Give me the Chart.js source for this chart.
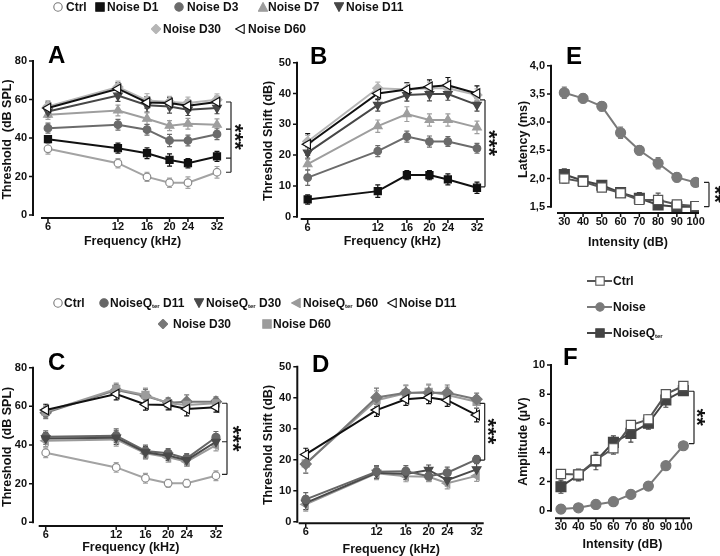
<!DOCTYPE html>
<html>
<head>
<meta charset="utf-8">
<script src="https://cdn.jsdelivr.net/npm/chart.js@4.4.1/dist/chart.umd.min.js"></script>
<style>
  body { margin: 0; background: #fff; }
  #wrap { position: relative; width: 720px; height: 556px; overflow: hidden;
          font-family: "Liberation Sans", Arial, sans-serif; font-weight: bold; color: #111; }
  #wrap canvas { position: absolute; left: 0; top: 0; }
  .letter { position: absolute; font-size: 24px; line-height: 24px; color: #000; }
  .leg { position: absolute; font-size: 12px; line-height: 14px; white-space: nowrap; }
  .leg sub { font-size: 6px; vertical-align: -1px; }
  .mk { position: absolute; line-height: 0; }
  .mk svg { display: block; }
</style>
</head>
<body>
<div id="wrap">
  <canvas id="cA" width="720" height="556"></canvas>
  <canvas id="cB" width="720" height="556"></canvas>
  <canvas id="cE" width="720" height="556"></canvas>
  <canvas id="cC" width="720" height="556"></canvas>
  <canvas id="cD" width="720" height="556"></canvas>
  <canvas id="cF" width="720" height="556"></canvas>
  <div class="letter" style="left:48px;top:43px">A</div>
  <div class="letter" style="left:310px;top:44px">B</div>
  <div class="letter" style="left:566px;top:44px">E</div>
  <div class="letter" style="left:48px;top:350px">C</div>
  <div class="letter" style="left:312px;top:352px">D</div>
  <div class="letter" style="left:563px;top:345px">F</div>
</div>
<script>
// x values
const freqs = [6, 12, 16, 20, 24, 32];
const levels = [30, 40, 50, 60, 70, 80, 90, 100];

// tick labels
const thrTicks = [0, 20, 40, 60, 80];
const shiftTicks = [0, 10, 20, 30, 40, 50];
const latTicks = [1.5, 2.0, 2.5, 3.0, 3.5, 4.0];
const ampTicks = [0, 2, 4, 6, 8, 10];

// A - threshold (dB SPL)
const aCtrl = [34.4, 26.9, 19.8, 16.8, 16.8, 22.2];
const aCtrlErr = [2.8, 2.4, 2.4, 2.4, 3.0, 3.0];
const aD1 = [39.4, 34.7, 32.1, 28.6, 26.9, 30.4];
const aD1Err = [1.5, 2.6, 2.8, 3.2, 2.4, 2.6];
const aD3 = [45.1, 46.9, 44.3, 38.7, 38.7, 42.0];
const aD3Err = [2.6, 2.8, 2.8, 3.2, 2.8, 2.8];
const aD7 = [52.1, 54.3, 50.0, 46.4, 47.4, 46.9];
const aD7Err = [2.4, 2.8, 3.0, 2.6, 2.8, 3.0];
const aD11 = [53.8, 62.0, 57.0, 56.4, 54.7, 55.6];
const aD11Err = [3.0, 3.0, 3.5, 3.5, 3.0, 3.0];
const aD30 = [56.4, 66.5, 59.5, 58.7, 58.2, 59.9];
const aD30Err = [3.0, 3.0, 3.5, 3.0, 3.0, 3.0];
const aD60 = [55.6, 65.6, 58.5, 58.2, 56.8, 58.7];
const aD60Err = [3.0, 3.0, 3.0, 3.0, 3.0, 3.0];

// B - threshold shift (dB)
const bD1 = [5.6, 8.3, 13.5, 13.5, 12.1, 9.4];
const bD1Err = [1.5, 2.0, 1.5, 1.5, 1.8, 1.8];
const bD3 = [12.7, 21.3, 26.0, 24.4, 24.4, 22.2];
const bD3Err = [2.5, 1.8, 1.8, 1.8, 1.6, 1.6];
const bD7 = [17.1, 29.4, 33.3, 31.4, 31.4, 29.0];
const bD7Err = [2.0, 2.0, 2.4, 2.0, 2.0, 2.0];
const bD11 = [20.8, 36.3, 39.5, 39.8, 39.8, 36.3];
const bD11Err = [2.0, 2.0, 2.0, 2.2, 2.0, 2.0];
const bD30 = [24.4, 41.7, 41.3, 41.7, 41.7, 39.5];
const bD30Err = [2.0, 2.0, 2.0, 2.0, 2.0, 2.0];
const bD60 = [23.5, 40.0, 41.3, 42.2, 42.7, 40.0];
const bD60Err = [3.5, 2.0, 2.2, 2.2, 2.5, 2.5];

// E - latency (ms)
const eCtrl = [2.00, 1.94, 1.84, 1.74, 1.62, 1.62, 1.54, 1.51];
const eCtrlErr = [0.08, 0.07, 0.07, 0.07, 0.08, 0.12, 0.07, 0.06];
const eNoise = [3.52, 3.42, 3.28, 2.81, 2.50, 2.27, 2.02, 1.93];
const eNoiseErr = [0.10, 0.08, 0.08, 0.10, 0.08, 0.10, 0.08, 0.06];
const eQter = [2.07, 1.96, 1.88, 1.75, 1.65, 1.53, 1.50, 1.50];
const eQterErr = [0.10, 0.08, 0.08, 0.08, 0.10, 0.08, 0.06, 0.06];

// C - threshold (dB SPL)
const cCtrl = [36.0, 28.4, 22.8, 20.2, 20.2, 24.1];
const cCtrlErr = [2.5, 2.5, 2.5, 2.0, 2.0, 2.5];
const cQ11 = [44.3, 44.8, 36.9, 35.7, 33.1, 44.0];
const cQ11Err = [3.0, 3.5, 3.0, 2.5, 2.5, 3.0];
const cQ30 = [43.4, 43.8, 36.2, 34.5, 32.2, 41.7];
const cQ30Err = [3.0, 3.5, 3.0, 2.5, 2.5, 3.0];
const cQ60 = [42.2, 42.9, 35.7, 33.6, 31.4, 40.0];
const cQ60Err = [3.0, 3.5, 3.0, 2.5, 2.5, 3.0];
const cN11 = [58.1, 66.4, 61.0, 60.7, 58.6, 59.5];
const cN11Err = [3.0, 3.0, 3.0, 2.5, 3.5, 2.5];
const cN30 = [56.7, 68.4, 65.3, 61.9, 62.4, 62.4];
const cN30Err = [3.0, 3.0, 3.5, 2.5, 3.5, 2.5];
const cN60 = [57.2, 69.0, 65.9, 61.6, 60.7, 61.6];
const cN60Err = [3.0, 3.0, 3.5, 2.5, 3.0, 2.5];

// D - threshold shift (dB)
const dN11 = [21.7, 36.0, 39.5, 40.1, 39.2, 34.4];
const dN11Err = [2.0, 2.0, 2.0, 2.0, 2.0, 2.2];
const dN30 = [18.6, 40.1, 41.6, 41.6, 41.6, 39.5];
const dN30Err = [3.0, 3.0, 2.5, 2.5, 2.5, 2.0];
const dN60 = [18.8, 39.2, 41.4, 41.9, 40.9, 38.7];
const dN60Err = [3.0, 3.0, 2.5, 2.5, 2.5, 2.0];
const dQ11 = [7.2, 16.1, 16.3, 14.7, 15.8, 20.1];
const dQ11Err = [2.2, 2.0, 1.8, 1.6, 1.8, 1.2];
const dQ30 = [6.1, 15.8, 15.4, 16.7, 13.4, 16.9];
const dQ30Err = [2.2, 2.0, 1.8, 1.6, 1.8, 1.8];
const dQ60 = [5.6, 15.6, 14.7, 14.5, 12.4, 14.8];
const dQ60Err = [2.2, 2.0, 1.8, 1.6, 1.8, 1.8];

// F - amplitude (uV)
const fCtrl = [2.52, 2.49, 3.48, 4.28, 5.88, 6.27, 8.00, 8.56];
const fCtrlErr = [0.30, 0.30, 0.40, 0.40, 0.30, 0.30, 0.30, 0.30];
const fNoise = [0.11, 0.20, 0.43, 0.62, 1.12, 1.69, 3.09, 4.46];
const fNoiseErr = [0.30, 0.25, 0.30, 0.30, 0.30, 0.30, 0.25, 0.20];
const fQter = [1.65, 2.45, 3.41, 4.69, 5.31, 6.00, 7.60, 8.24];
const fQterErr = [0.45, 0.40, 0.60, 0.45, 0.60, 0.40, 0.50, 0.30];

// significance brackets (data units on y)
const aBracket = [58.7, 44.6, 29.5, 22.2];
const bBracket = [37.9, 9.7];
const eBracket = [1.93, 1.5];
const cBracket = [61.6, 41.7, 24.8];
const dBracket = [38.2, 19.9];
const fBracket = [8.2, 4.6];

const FONT = '"Liberation Sans", Arial, sans-serif';

// marker / line looks
const look = {
  ctrl: { line: '#a3a3a3', fill: '#fff', edge: '#8c8c8c', shape: 'circle', r: 3.8 },
  d1:   { line: '#111', fill: '#111', edge: '#111', shape: 'rect', r: 5 },
  d3:   { line: '#6b6b6b', fill: '#6b6b6b', edge: '#6b6b6b', shape: 'circle', r: 3.8 },
  d7:   { line: '#9e9e9e', fill: '#9e9e9e', edge: '#9e9e9e', shape: 'triangle', rot: 0, r: 5 },
  d11:  { line: '#474747', fill: '#474747', edge: '#474747', shape: 'triangle', rot: 180, r: 5 },
  d30:  { line: '#b6b6b6', fill: '#b6b6b6', edge: '#b6b6b6', shape: 'rectRot', r: 5 },
  d60:  { line: '#111', fill: '#fff', edge: '#111', shape: 'triangle', rot: 270, r: 5.5 },
  q11:  { line: '#666', fill: '#666', edge: '#666', shape: 'circle', r: 4 },
  q30:  { line: '#4a4a4a', fill: '#4a4a4a', edge: '#4a4a4a', shape: 'triangle', rot: 180, r: 5 },
  q60:  { line: '#9a9a9a', fill: '#9a9a9a', edge: '#9a9a9a', shape: 'triangle', rot: 270, r: 5 },
  n11:  { line: '#111', fill: '#fff', edge: '#111', shape: 'triangle', rot: 270, r: 5.5 },
  n30:  { line: '#777', fill: '#777', edge: '#777', shape: 'rectRot', r: 5.5 },
  n60:  { line: '#9c9c9c', fill: '#9c9c9c', edge: '#9c9c9c', shape: 'rect', r: 5 },
  eCtrl: { line: '#555', fill: '#fff', edge: '#555', shape: 'rect', r: 6.5 },
  eNoise: { line: '#7a7a7a', fill: '#7a7a7a', edge: '#7a7a7a', shape: 'circle', r: 5 },
  eQter: { line: '#444', fill: '#444', edge: '#444', shape: 'rect', r: 7 }
};

function series(xs, vals, errs, lk) {
  return {
    data: xs.map((x, i) => ({ x: x, y: vals[i] })),
    err: errs,
    borderColor: lk.line,
    borderWidth: 2,
    pointStyle: lk.shape,
    pointRotation: lk.rot || 0,
    pointRadius: lk.r,
    pointBackgroundColor: lk.fill,
    pointBorderColor: lk.edge,
    pointBorderWidth: 1.2,
    tension: 0,
    fill: false
  };
}

// error bars under the markers
const errorBars = {
  id: 'errorBars',
  beforeDatasetsDraw(chart) {
    const ctx = chart.ctx, ys = chart.scales.y;
    chart.data.datasets.forEach((ds, di) => {
      const meta = chart.getDatasetMeta(di);
      ctx.save();
      ctx.strokeStyle = ds.borderColor;
      ctx.lineWidth = 1.2;
      meta.data.forEach((pt, i) => {
        const v = ds.data[i].y, e = ds.err[i];
        const top = ys.getPixelForValue(v + e), bot = ys.getPixelForValue(v - e);
        ctx.beginPath();
        ctx.moveTo(pt.x, top); ctx.lineTo(pt.x, bot);
        ctx.moveTo(pt.x - 2.5, top); ctx.lineTo(pt.x + 2.5, top);
        ctx.moveTo(pt.x - 2.5, bot); ctx.lineTo(pt.x + 2.5, bot);
        ctx.stroke();
      });
      ctx.restore();
    });
  }
};

// detached axis lines with short outside ticks
const axisLines = {
  id: 'axisLines',
  afterDraw(chart, args, opts) {
    const { ctx, chartArea: a, scales: { x, y } } = chart;
    const yPix = y.ticks.map(t => y.getPixelForValue(t.value));
    ctx.save();
    ctx.strokeStyle = '#111';
    ctx.lineWidth = 2;
    ctx.beginPath();
    ctx.moveTo(opts.yLine, Math.min(...yPix) - 1);
    ctx.lineTo(opts.yLine, Math.max(...yPix) + 1);
    ctx.moveTo(a.left, a.bottom);
    ctx.lineTo(a.right, a.bottom);
    ctx.stroke();
    ctx.lineWidth = 1.5;
    ctx.beginPath();
    yPix.forEach(p => { ctx.moveTo(opts.yLine - 4, p); ctx.lineTo(opts.yLine, p); });
    x.ticks.forEach(t => {
      const p = x.getPixelForValue(t.value);
      ctx.moveTo(p, a.bottom); ctx.lineTo(p, a.bottom + 4);
    });
    ctx.stroke();
    ctx.restore();
  }
};

// significance bracket with rotated stars
const bracket = {
  id: 'bracket',
  afterDraw(chart, args, opts) {
    const { ctx, chartArea: a, scales: { y } } = chart;
    const bx = a.right + opts.dx;
    const ps = opts.values.map(v => y.getPixelForValue(v));
    const top = Math.min(...ps), bot = Math.max(...ps);
    ctx.save();
    ctx.strokeStyle = '#222';
    ctx.lineWidth = 1.2;
    ctx.beginPath();
    ctx.moveTo(bx, top); ctx.lineTo(bx, bot);
    ps.forEach(p => { ctx.moveTo(bx - 5, p); ctx.lineTo(bx, p); });
    ctx.stroke();
    ctx.translate(bx + opts.starDx, (top + bot) / 2);
    ctx.rotate(Math.PI / 2);
    ctx.font = 'bold 22px ' + FONT;
    ctx.fillStyle = '#111';
    const m = ctx.measureText(opts.stars);
    const w = m.actualBoundingBoxRight + m.actualBoundingBoxLeft;
    ctx.fillText(opts.stars, -w / 2 + m.actualBoundingBoxLeft,
      (m.actualBoundingBoxAscent - m.actualBoundingBoxDescent) / 2);
    ctx.restore();
  }
};

function makePanel(id, box, ax, datasets, br) {
  const lh = 12.5 * 1.2;
  const wy = box.L - (box.yTitleX - lh / 2);
  const hx = box.xTitleY + lh / 2 - box.B;
  const tickFont = { family: FONT, size: 11, weight: 'bold' };
  const titleFont = { family: FONT, size: 12.5, weight: 'bold' };
  new Chart(document.getElementById(id), {
    type: 'line',
    data: { datasets: datasets },
    options: {
      responsive: false,
      animation: false,
      devicePixelRatio: 1,
      events: [],
      layout: { padding: { left: box.L - wy, top: box.T, right: 720 - box.R, bottom: 556 - box.B - hx } },
      plugins: {
        legend: { display: false },
        tooltip: { enabled: false },
        axisLines: { yLine: box.yLine },
        bracket: br
      },
      scales: {
        x: {
          type: ax.xType,
          min: ax.xMin,
          max: ax.xMax,
          afterBuildTicks: s => { s.ticks = ax.xTicks.map(v => ({ value: v })); },
          afterFit: s => { s.height = hx; s.paddingLeft = 0; s.paddingRight = 0; },
          grid: { display: false, drawTicks: false },
          border: { display: false },
          ticks: { padding: 2, color: '#111', font: tickFont, autoSkip: false, maxRotation: 0,
                   callback: v => String(v) },
          title: { display: true, text: ax.xTitle, color: '#111', font: titleFont, padding: 0 }
        },
        y: {
          type: 'linear',
          min: ax.yMin,
          max: ax.yMax,
          afterBuildTicks: s => { s.ticks = ax.yTicks.map(v => ({ value: v })); },
          afterFit: s => { s.width = wy; s.paddingTop = 0; s.paddingBottom = 0; },
          grid: { display: false, drawTicks: false },
          border: { display: false },
          ticks: { padding: box.L - box.yLine + 6, color: '#111', font: tickFont,
                   callback: ax.yFmt || (v => String(v)) },
          title: { display: true, text: ax.yTitle, color: '#111', font: titleFont, padding: 0 }
        }
      }
    },
    plugins: [errorBars, axisLines, bracket]
  });
}

const freqAxis = { xType: 'logarithmic', xMin: 5.6, xMax: 34.3, xTicks: freqs, xTitle: 'Frequency (kHz)' };
const comma = v => v.toFixed(1).replace('.', ',');

makePanel('cA', { L: 41, R: 224, T: 61, B: 218, yLine: 33, yTitleX: 8, xTitleY: 242 },
  Object.assign({ yMin: -1.56, yMax: 80, yTicks: thrTicks, yTitle: 'Threshold  (dB SPL)' }, freqAxis),
  [series(freqs, aD60, aD60Err, look.d60), series(freqs, aD30, aD30Err, look.d30),
   series(freqs, aD11, aD11Err, look.d11), series(freqs, aD7, aD7Err, look.d7),
   series(freqs, aD3, aD3Err, look.d3), series(freqs, aD1, aD1Err, look.d1),
   series(freqs, aCtrl, aCtrlErr, look.ctrl)],
  { values: aBracket, dx: 7, starDx: 7, stars: '***' });

makePanel('cB', { L: 300.7, R: 484, T: 62.7, B: 219, yLine: 297, yTitleX: 269, xTitleY: 241.7 },
  Object.assign({ yMin: -0.75, yMax: 50, yTicks: shiftTicks, yTitle: 'Threshold Shift (dB)' }, freqAxis),
  [series(freqs, bD60, bD60Err, look.d60), series(freqs, bD11, bD11Err, look.d11),
   series(freqs, bD30, bD30Err, look.d30), series(freqs, bD7, bD7Err, look.d7),
   series(freqs, bD3, bD3Err, look.d3), series(freqs, bD1, bD1Err, look.d1)],
  { values: bBracket, dx: 1, starDx: 7, stars: '***' });

makePanel('cE', { L: 557, R: 699, T: 65.7, B: 213, yLine: 551, yTitleX: 524, xTitleY: 243 },
  { xType: 'linear', xMin: 26.1, xMax: 101.8, xTicks: levels, xTitle: 'Intensity (dB)',
    yMin: 1.388, yMax: 4.0, yTicks: latTicks, yTitle: 'Latency (ms)', yFmt: comma },
  [series(levels, eCtrl, eCtrlErr, look.eCtrl), series(levels, eQter, eQterErr, look.eQter),
   series(levels, eNoise, eNoiseErr, look.eNoise)],
  { values: eBracket, dx: 10, starDx: 9, stars: '**' });

makePanel('cC', { L: 38.7, R: 223, T: 367.7, B: 526, yLine: 33, yTitleX: 8, xTitleY: 548 },
  Object.assign({ yMin: -1.9, yMax: 80, yTicks: thrTicks, yTitle: 'Threshold  (dB SPL)' }, freqAxis),
  [series(freqs, cN11, cN11Err, look.n11), series(freqs, cN60, cN60Err, look.n60),
   series(freqs, cN30, cN30Err, look.n30), series(freqs, cQ30, cQ30Err, look.q30),
   series(freqs, cQ11, cQ11Err, look.q11), series(freqs, cQ60, cQ60Err, look.q60),
   series(freqs, cCtrl, cCtrlErr, look.ctrl)],
  { values: cBracket, dx: 4, starDx: 9, stars: '***' });

makePanel('cD', { L: 298.7, R: 483.7, T: 366.7, B: 523.3, yLine: 297.3, yTitleX: 269, xTitleY: 550 },
  Object.assign({ yMin: -0.5, yMax: 50, yTicks: shiftTicks, yTitle: 'Threshold Shift (dB)' }, freqAxis),
  [series(freqs, dN11, dN11Err, look.n11), series(freqs, dN30, dN30Err, look.n30),
   series(freqs, dN60, dN60Err, look.n60), series(freqs, dQ11, dQ11Err, look.q11),
   series(freqs, dQ30, dQ30Err, look.q30), series(freqs, dQ60, dQ60Err, look.q60)],
  { values: dBracket, dx: 1, starDx: 7, stars: '***' });

makePanel('cF', { L: 555, R: 690, T: 365, B: 518.3, yLine: 551, yTitleX: 524, xTitleY: 545 },
  { xType: 'linear', xMin: 26.6, xMax: 103.8, xTicks: levels, xTitle: 'Intensity (dB)',
    yMin: -0.52, yMax: 10, yTicks: ampTicks, yTitle: 'Amplitude (\u00b5V)' },
  [series(levels, fCtrl, fCtrlErr, look.eCtrl), series(levels, fQter, fQterErr, look.eQter),
   series(levels, fNoise, fNoiseErr, look.eNoise)],
  { values: fBracket, dx: 4, starDx: 6, stars: '**' });

// legends
const wrap = document.getElementById('wrap');
function markerSvg(shape, fill, stroke, s) {
  const h = s / 2;
  let el = '';
  if (shape === 'circle') el = `<circle cx="${h}" cy="${h}" r="${h - 0.8}"/>`;
  if (shape === 'square') el = `<rect x="0.8" y="0.8" width="${s - 1.6}" height="${s - 1.6}"/>`;
  if (shape === 'up') el = `<polygon points="${h},0.6 ${s - 0.4},${s - 0.8} 0.4,${s - 0.8}"/>`;
  if (shape === 'down') el = `<polygon points="0.4,0.8 ${s - 0.4},0.8 ${h},${s - 0.6}"/>`;
  if (shape === 'left') el = `<polygon points="0.6,${h} ${s - 0.8},0.4 ${s - 0.8},${s - 0.4}"/>`;
  if (shape === 'diamond') el = `<polygon points="${h},0.3 ${s - 0.3},${h} ${h},${s - 0.3} 0.3,${h}"/>`;
  return `<svg width="${s}" height="${s}" fill="${fill}" stroke="${stroke}" stroke-width="1.1">${el}</svg>`;
}
function legendItem(shape, fill, stroke, html, mx, tx, cy, lineColor) {
  const s = 10;
  if (lineColor) {
    const ln = document.createElement('div');
    ln.style.cssText = `position:absolute;left:${mx - 13}px;top:${cy - 1}px;width:25px;height:2px;background:${lineColor}`;
    wrap.appendChild(ln);
  }
  const mk = document.createElement('div');
  mk.className = 'mk';
  mk.style.left = (mx - s / 2) + 'px';
  mk.style.top = (cy - s / 2) + 'px';
  mk.innerHTML = markerSvg(shape, fill, stroke, s);
  wrap.appendChild(mk);
  const t = document.createElement('div');
  t.className = 'leg';
  t.style.left = tx + 'px';
  t.style.top = (cy - 7) + 'px';
  t.innerHTML = html;
  wrap.appendChild(t);
}
const qter = 'Noise<span>Q<sub>ter</sub></span>';

legendItem('circle', '#fff', '#777', 'Ctrl', 57.5, 66, 7);
legendItem('square', '#111', '#111', 'Noise D1', 99.5, 107, 7);
legendItem('circle', '#6b6b6b', '#6b6b6b', 'Noise D3', 178.5, 187, 7);
legendItem('up', '#9e9e9e', '#9e9e9e', 'Noise D7', 262.5, 268, 7);
legendItem('down', '#474747', '#474747', 'Noise D11', 339, 346, 7);
legendItem('diamond', '#b6b6b6', '#b6b6b6', 'Noise D30', 155.5, 163, 29);
legendItem('left', '#fff', '#111', 'Noise D60', 240, 248, 29);

legendItem('circle', '#fff', '#777', 'Ctrl', 57.5, 64, 303);
legendItem('circle', '#666', '#666', qter + ' D11', 103.5, 110, 303);
legendItem('down', '#4a4a4a', '#4a4a4a', qter + ' D30', 199, 206, 303);
legendItem('left', '#9a9a9a', '#9a9a9a', qter + ' D60', 296, 303, 303);
legendItem('left', '#fff', '#111', 'Noise D11', 392, 399, 303);
legendItem('diamond', '#777', '#777', 'Noise D30', 163, 173, 324);
legendItem('square', '#9c9c9c', '#9c9c9c', 'Noise D60', 267, 273, 324);

legendItem('square', '#fff', '#555', 'Ctrl', 600, 613, 281, '#555');
legendItem('circle', '#7a7a7a', '#7a7a7a', 'Noise', 600, 613, 307, '#7a7a7a');
legendItem('square', '#444', '#444', qter, 600, 613, 333, '#444');
</script>
</body>
</html>
